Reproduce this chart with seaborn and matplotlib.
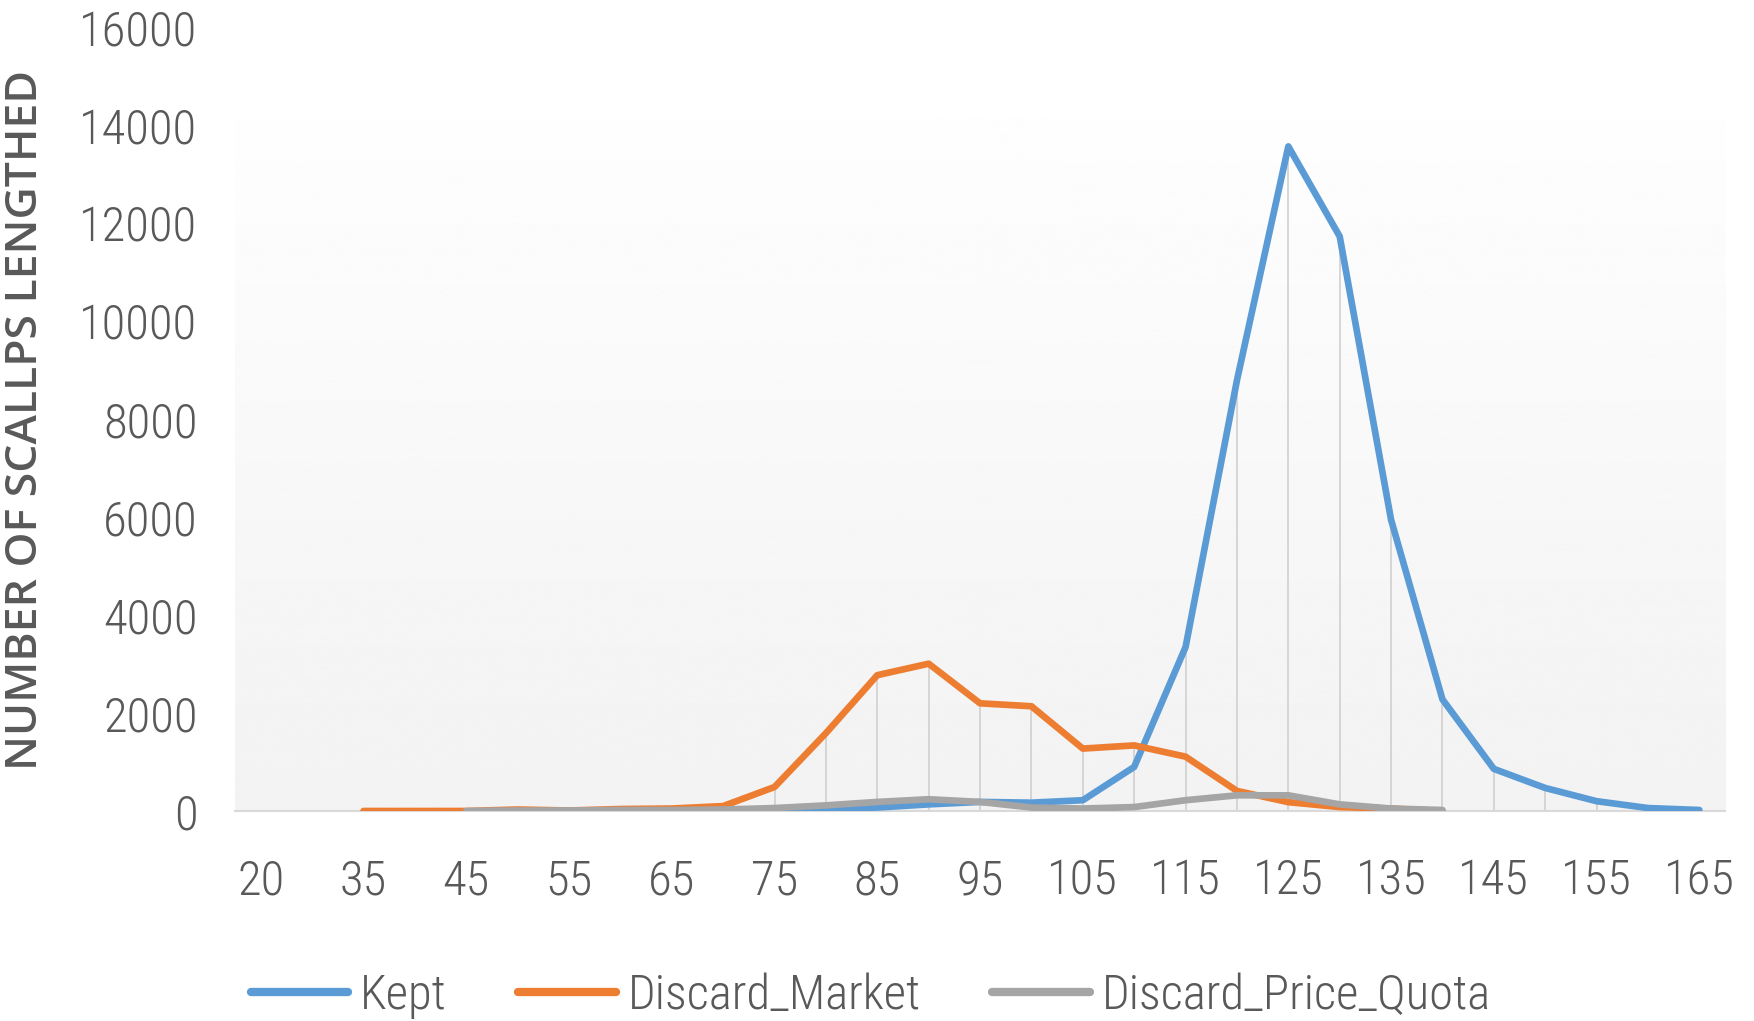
import numpy as np
import pandas as pd
import matplotlib
matplotlib.use("Agg")
import matplotlib.pyplot as plt
from matplotlib.lines import Line2D
from matplotlib import font_manager
import seaborn as sns

# Datos
longitudes = [20, 30, 35, 40, 45, 50, 55, 60, 65, 70, 75, 80, 85, 90, 95, 100,
              105, 110, 115, 120, 125, 130, 135, 140, 145, 150, 155, 160, 165]
etiquetas_x = ["20", "", "35", "", "45", "", "55", "", "65", "", "75", "", "85", "", "95", "",
               "105", "", "115", "", "125", "", "135", "", "145", "", "155", "", "165"]
nan = np.nan
kept = [nan, nan, nan, nan, nan, nan, nan, nan, nan, nan, 10, 50, 70, 135, 185, 170,
        220, 900, 3350, 8800, 13580, 11740, 5950, 2280, 860, 470, 200, 60, 20]
discard_market = [nan, nan, 0, 0, 0, 30, 10, 40, 50, 100, 490, 1590, 2775, 3010, 2200, 2140,
                  1275, 1340, 1110, 410, 180, 80, 50, 0, nan, nan, nan, nan, nan]
discard_price_quota = [nan, nan, nan, nan, 0, 10, 10, 20, 20, 30, 60, 115, 185, 240, 185, 70,
                       50, 80, 220, 320, 320, 135, 50, 20, nan, nan, nan, nan, nan]
series = {"Kept": kept, "Discard_Market": discard_market, "Discard_Price_Quota": discard_price_quota}
colores = {"Kept": "#5B9BD5", "Discard_Market": "#ED7D31", "Discard_Price_Quota": "#A5A5A5"}

filas = []
for nombre, valores in series.items():
    for i, v in enumerate(valores):
        filas.append({"pos": i, "valor": v, "serie": nombre})
df = pd.DataFrame(filas).dropna()

sns.set_style("white")

# Buscar una fuente estrecha si existe
disponibles = {f.name for f in font_manager.fontManager.ttflist}
familia = "Liberation Sans"
for candidata in ["Roboto Condensed", "Liberation Sans Narrow", "DejaVu Sans Condensed"]:
    if candidata in disponibles:
        familia = candidata
        break
plt.rcParams['font.family'] = [familia, 'DejaVu Sans']
color_texto = "#595959"

fig = plt.figure(figsize=(17.54, 10.21), dpi=100)
ax = fig.add_axes([0.134, 0.2057, 0.8495, 0.7669])

# Fondo degradado del área de trazado
n = len(longitudes)
tope = 14130
grad = np.linspace(0.95, 0.995, 256).reshape(-1, 1)
ax.imshow(grad, extent=[-0.5, n - 0.5, 0, tope], origin="lower", cmap="gray",
          vmin=0, vmax=1, aspect="auto", zorder=0)

# Líneas de proyección
maximos = np.nanmax(np.array([kept, discard_market, discard_price_quota], dtype=float), axis=0)
pos = np.arange(n)
validos = ~np.isnan(maximos)
ax.vlines(pos[validos], 0, maximos[validos], color="#D0D0D0", lw=1.2, zorder=1)

sns.lineplot(data=df, x="pos", y="valor", hue="serie", palette=colores,
             hue_order=list(series.keys()), lw=4.8, ax=ax, legend=False, zorder=3,
             solid_capstyle="round", solid_joinstyle="round")

ax.set_xlim(-0.5, n - 0.5)
ax.set_ylim(0, 16000)
ax.set_xticks(pos)
ax.set_xticklabels(etiquetas_x)
ax.set_yticks(np.arange(0, 16001, 2000))
ax.tick_params(axis="both", length=0, labelsize=35, colors=color_texto)
ax.tick_params(axis="x", pad=34)
ax.tick_params(axis="y", pad=27)
for etiqueta in ax.get_xticklabels() + ax.get_yticklabels():
    etiqueta.set_fontweight("light")
ax.set_xlabel("")
ax.set_ylabel("NUMBER OF SCALLPS LENGTHED", fontsize=32, fontweight="semibold",
              color=color_texto, family=["Open Sans", "DejaVu Sans"])
ax.yaxis.set_label_coords(-0.1265, 0.499)
for lado in ["top", "right", "left"]:
    ax.spines[lado].set_visible(False)
ax.spines["bottom"].set_color("#D9D9D9")
ax.spines["bottom"].set_linewidth(1.5)

manejadores = [Line2D([0], [0], color=colores[k], lw=6, solid_capstyle="round") for k in series]
leyenda = fig.legend(manejadores, list(series.keys()), loc="center", bbox_to_anchor=(0.4965, 0.025),
                     ncol=3, frameon=False, fontsize=35, handlelength=2.0, handletextpad=0.25,
                     columnspacing=1.47, labelcolor=color_texto)
for t in leyenda.get_texts():
    t.set_fontweight("light")

fig.savefig("out.png", dpi=100)
